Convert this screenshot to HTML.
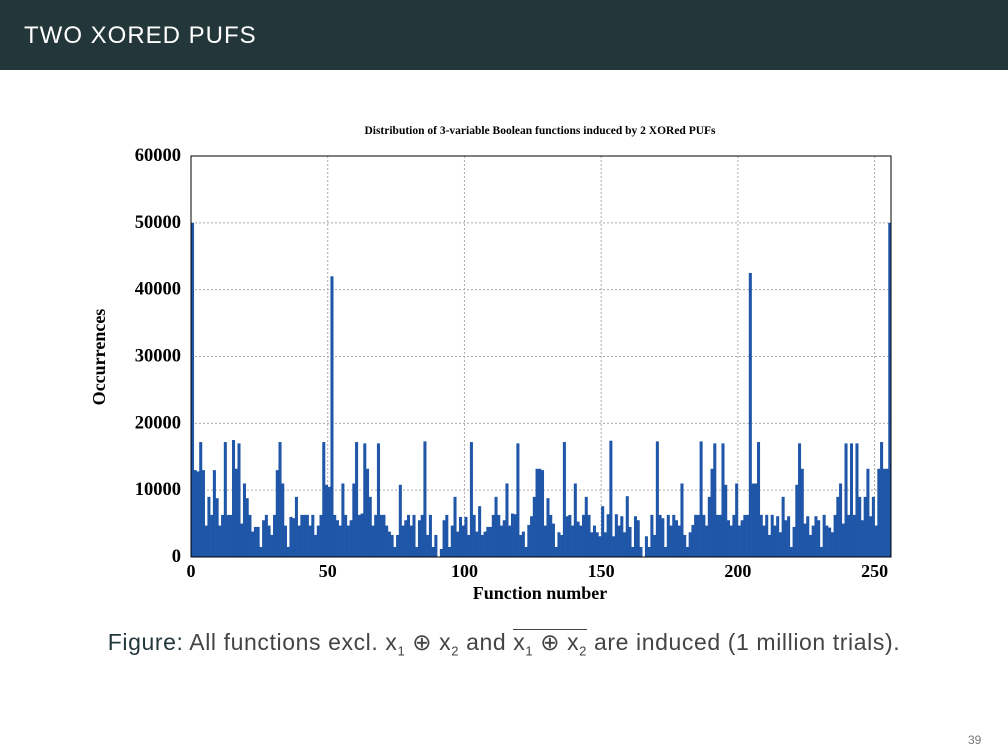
<!DOCTYPE html>
<html><head><meta charset="utf-8"><style>
body{margin:0;width:1008px;height:756px;background:#fff;overflow:hidden;position:relative;font-family:"Liberation Sans",sans-serif}
#hdr{position:absolute;left:0;top:0;width:1008px;height:70px;background:#23373b}
#hdr span{position:absolute;left:24px;top:22px;color:#fff;font-size:24px;letter-spacing:1px}
#cap{position:absolute;left:0;width:1008px;top:629px;text-align:center;font-size:23px;letter-spacing:0.6px;color:#444}
#cap sub{font-size:13px}
#ol{display:inline-block;border-top:1.5px solid #444;line-height:22px;padding-top:1px}
#pg{position:absolute;left:968px;top:733px;font-size:12px;color:#777}
</style></head><body>
<div id="hdr"><span>TWO XORED PUFS</span></div>
<svg id="chart" width="1008" height="756" style="position:absolute;left:0;top:0"></svg>
<div id="cap"><span style="color:#23373b">Figure:</span> All functions excl. x<sub>1</sub> ⊕ x<sub>2</sub> and <span id="ol">x<sub>1</sub> ⊕ x<sub>2</sub></span> are induced (1 million trials).</div>
<div id="pg">39</div>
<script>
const values=[50000,13000,12800,17200,13000,4700,9000,6300,13000,8800,4700,6300,17200,6300,6300,17500,
13200,17000,5000,11000,8800,6300,3800,4500,4500,1500,5500,6300,4700,3300,6300,13000,
17200,11000,4700,1500,6000,5800,9000,4700,6300,6300,
6300,4700,6300,3300,4700,6300,17200,10800,10500,42000,6300,5500,4700,11000,6300,4700,5500,11000,17200,6300,6500,17000,13200,9000,4700,6300,17000,6300,6300,4700,3800,3300,1500,3300,10800,4700,5500,6300,4700,6300,1500,5500,
6300,17300,3300,6300,1500,3300,0,1200,5500,6300,1500,4700,9000,3800,6000,4700,6000,3300,17200,6300,3800,7600,3300,3800,4500,4500,6300,9000,6300,4700,5500,11000,4700,6500,6400,17000,3300,3800,1500,4800,6100,9000,13200,
13200,13000,4700,8800,6300,5000,1500,3700,3300,17200,6100,6300,4700,11000,5300,4700,6300,9000,6300,3700,4700,3700,3100,7600,3700,6400,17400,3100,6400,4700,6100,3700,9100,4500,1500,6100,5500,1500,0,3100,1500,6300,3300,17300,
6300,5800,1500,6300,4700,6300,5500,4700,11000,3300,1500,3700,4800,6300,6300,17300,6300,4700,9000,13200,17000,6300,6300,17000,10800,5500,4700,6300,11000,
4700,5500,6300,6300,42500,11000,11000,17200,6300,4700,6300,3300,6300,
4700,6100,3700,9000,5500,6100,1500,4500,10800,17000,13200,5000,6100,3300,4700,6100,5500,1500,6300,4700,4400,3700,6300,9000,11000,5000,17000,6300,17000,6300,17000,9000,5500,9000,13200,6100,9000,4700,13200,17200,13200,13200,50000];
const xTicks=[0,50,100,150,200,250];
const yTicks=[0,10000,20000,30000,40000,50000,60000];
const NS="http://www.w3.org/2000/svg",svg=document.getElementById('chart');
const L=191,R=891,T=156,B=557;
const xs=v=>L+(v/256)*(R-L), ys=v=>B-(v/60000)*(B-T);
function mk(t,a,p){const e=document.createElementNS(NS,t);for(const k in a)e.setAttribute(k,a[k]);(p||svg).appendChild(e);return e;}
const F='"Liberation Serif",serif';
for(const t of xTicks){if(t===0)continue;const g=mk('line',{x1:xs(t),x2:xs(t),y1:T,y2:B,stroke:'#aaa','stroke-dasharray':'2,2'});

}
for(const t of yTicks){if(t===0||t===60000)continue;const g=mk('line',{x1:L,x2:R,y1:ys(t),y2:ys(t),stroke:'#aaa','stroke-dasharray':'2,2'});

}
values.forEach((v,i)=>{const r=mk('rect',{x:xs(i),y:ys(v),width:(R-L)/256+0.3,height:B-ys(v),fill:'#1f56a8'});

});
const fr=mk('rect',{x:L,y:T,width:R-L,height:B-T,fill:'none',stroke:'#000','stroke-width':1});


for(const t of xTicks){const e=mk('text',{x:xs(t),y:577,'text-anchor':'middle','font-family':F,'font-weight':'bold','font-size':18});e.textContent=t;

}
for(const t of yTicks){const e=mk('text',{x:181,y:ys(t)+5,'text-anchor':'end','font-family':F,'font-weight':'bold','font-size':18.5});e.textContent=t;

}
let e=mk('text',{x:540,y:134,'text-anchor':'middle','font-family':F,'font-weight':'bold','font-size':11.5});e.textContent='Distribution of 3-variable Boolean functions induced by 2 XORed PUFs';


e=mk('text',{x:540,y:599,'text-anchor':'middle','font-family':F,'font-weight':'bold','font-size':18});e.textContent='Function number';


e=mk('text',{x:0,y:0,'text-anchor':'middle','font-family':F,'font-weight':'bold','font-size':18,transform:'translate(105,357) rotate(-90)'});e.textContent='Occurrences';


</script>
</body></html>
